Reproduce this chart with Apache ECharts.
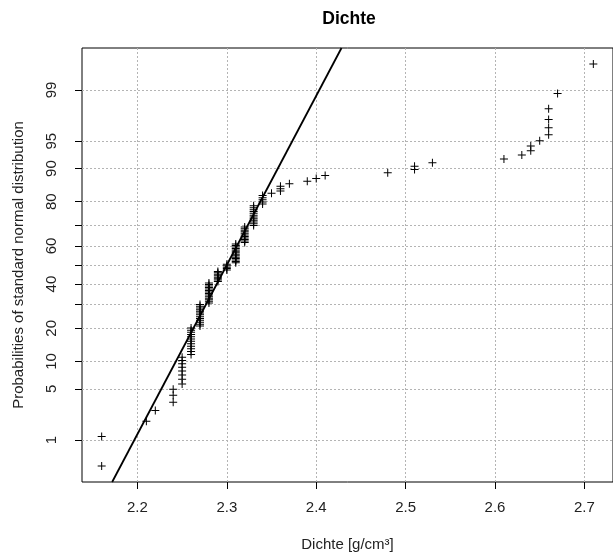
<!DOCTYPE html>
<html>
<head>
<meta charset="utf-8">
<script src="https://cdn.jsdelivr.net/npm/echarts@6/dist/echarts.min.js"></script>
<style>html,body{margin:0;padding:0;background:#fff}#c{width:613px;height:557px}</style>
</head>
<body>
<div id="c"></div>
<script>
// Distinct density values (g/cm³) and how many samples have each value
const densityValues = [2.16, 2.21, 2.22, 2.24, 2.25, 2.26, 2.27, 2.28, 2.29, 2.30,
  2.31, 2.32, 2.33, 2.34, 2.35, 2.36, 2.37, 2.39, 2.40, 2.41,
  2.48, 2.51, 2.53, 2.61, 2.63, 2.64, 2.65, 2.66, 2.67, 2.71];
const densityCounts = [2, 1, 1, 3, 8, 12, 13, 14, 8, 5,
  14, 11, 12, 5, 1, 3, 1, 1, 1, 1,
  1, 2, 1, 1, 1, 2, 1, 4, 1, 1];
const xTickValues = [2.2, 2.3, 2.4, 2.5, 2.6, 2.7];
const yTickProbs = [1, 5, 10, 20, 30, 40, 50, 60, 70, 80, 90, 95, 99];
const yLabelProbs = [1, 5, 10, 20, 40, 60, 80, 90, 95, 99];

function qnorm(p) {
  const a = [-3.969683028665376e+01, 2.209460984245205e+02, -2.759285104469687e+02, 1.383577518672690e+02, -3.066479806614716e+01, 2.506628277459239e+00];
  const b = [-5.447609879822406e+01, 1.615858368580409e+02, -1.556989798598866e+02, 6.680131188771972e+01, -1.328068155288572e+01];
  const c = [-7.784894002430293e-03, -3.223964580411365e-01, -2.400758277161838e+00, -2.549732539343734e+00, 4.374664141464968e+00, 2.938163982698783e+00];
  const d = [7.784695709041462e-03, 3.224671290700398e-01, 2.445134137142996e+00, 3.754408661907416e+00];
  const pl = 0.02425, ph = 1 - pl;
  let q, r;
  if (p < pl) {
    q = Math.sqrt(-2 * Math.log(p));
    return (((((c[0]*q+c[1])*q+c[2])*q+c[3])*q+c[4])*q+c[5]) / ((((d[0]*q+d[1])*q+d[2])*q+d[3])*q+1);
  }
  if (p > ph) {
    q = Math.sqrt(-2 * Math.log(1 - p));
    return -(((((c[0]*q+c[1])*q+c[2])*q+c[3])*q+c[4])*q+c[5]) / ((((d[0]*q+d[1])*q+d[2])*q+d[3])*q+1);
  }
  q = p - 0.5; r = q * q;
  return (((((a[0]*r+a[1])*r+a[2])*r+a[3])*r+a[4])*r+a[5])*q / (((((b[0]*r+b[1])*r+b[2])*r+b[3])*r+b[4])*r+1);
}

// expand to sorted sample
const sample = [];
densityValues.forEach((v, i) => { for (let k = 0; k < densityCounts[i]; k++) sample.push(v); });
sample.sort((x, y) => x - y);
const n = sample.length;
const points = sample.map((v, i) => [v, qnorm((i + 0.5) / n)]);

function quantile7(arr, p) {
  const h = (arr.length - 1) * p;
  const lo = Math.floor(h), hi = Math.ceil(h);
  return arr[lo] + (h - lo) * (arr[hi] - arr[lo]);
}
const q1 = quantile7(sample, 0.25), q3 = quantile7(sample, 0.75);
const slope = (q3 - q1) / (qnorm(0.75) - qnorm(0.25)); // x per z
const intercept = q1 - slope * qnorm(0.25);

const xMinD = sample[0], xMaxD = sample[n - 1];
const xPad = 0.04 * (xMaxD - xMinD);
const xMin = xMinD - xPad, xMax = xMaxD + xPad;
const zMinD = points[0][1], zMaxD = points[n - 1][1];
const zPad = 0.04 * (zMaxD - zMinD);
const zMin = zMinD - zPad, zMax = zMaxD + zPad;
const lineData = [[intercept + slope * zMin, zMin], [intercept + slope * zMax, zMax]];

const gridLeft = 82, gridTop = 48, gridW = 536, gridH = 434;
const font = 'Liberation Sans, Arial, Helvetica, sans-serif';

const chart = echarts.init(document.getElementById('c'), null, {renderer: 'canvas'});
chart.setOption({
  animation: false,
  backgroundColor: '#fff',
  title: {
    text: 'Dichte',
    left: gridLeft + gridW / 2 - 6,
    textAlign: 'center',
    top: 5,
    textStyle: {fontFamily: font, fontSize: 17.5, fontWeight: 'bold', color: '#000'}
  },
  grid: {
    left: gridLeft, top: gridTop, width: gridW, height: gridH,
    show: true, borderColor: '#000', borderWidth: 1, backgroundColor: 'transparent'
  },
  xAxis: {
    type: 'value', min: xMin, max: xMax,
    name: 'Dichte [g/cm³]', nameLocation: 'middle', nameGap: 55,
    nameTextStyle: {fontFamily: font, fontSize: 15, color: '#222'},
    axisLine: {show: false, onZero: false},
    axisTick: {show: true, length: 7, inside: false, customValues: xTickValues, lineStyle: {color: '#000', width: 1}},
    axisLabel: {customValues: xTickValues, margin: 18, fontFamily: font, fontSize: 15, color: '#222',
      formatter: v => Number(v).toFixed(1)},
    splitLine: {show: true, lineStyle: {color: '#b4b4b4', type: [2, 2], width: 1}}
  },
  yAxis: {
    type: 'value', min: zMin, max: zMax,
    name: 'Probabilities of standard normal distribution', nameLocation: 'middle', nameGap: 56,
    nameTextStyle: {fontFamily: font, fontSize: 15, color: '#222'},
    axisLine: {show: false, onZero: false},
    axisTick: {show: true, length: 7, inside: false, customValues: yTickProbs.map(p => qnorm(p / 100)), lineStyle: {color: '#000', width: 1}},
    axisLabel: {customValues: yLabelProbs.map(p => qnorm(p / 100)), rotate: 90, margin: 23,
      fontFamily: font, fontSize: 15, color: '#222',
      formatter: v => {
        let best = yLabelProbs[0], bd = Infinity;
        yLabelProbs.forEach(p => { const dd = Math.abs(qnorm(p / 100) - v); if (dd < bd) { bd = dd; best = p; } });
        return String(best);
      }},
    splitLine: {show: true, lineStyle: {color: '#b4b4b4', type: [2, 2], width: 1}}
  },
  series: [
    {
      type: 'line', data: lineData, showSymbol: false, symbol: 'none',
      lineStyle: {color: '#000', width: 1.8}, silent: true, z: 3
    },
    {
      type: 'scatter', data: points, symbolSize: 8,
      symbol: 'path://M-0.5,-4 L0.5,-4 L0.5,-0.5 L4,-0.5 L4,0.5 L0.5,0.5 L0.5,4 L-0.5,4 L-0.5,0.5 L-4,0.5 L-4,-0.5 L-0.5,-0.5 Z',
      symbolKeepAspect: true,
      itemStyle: {color: '#000', opacity: 1}, silent: true, z: 4
    }
  ]
});
</script>
</body>
</html>
